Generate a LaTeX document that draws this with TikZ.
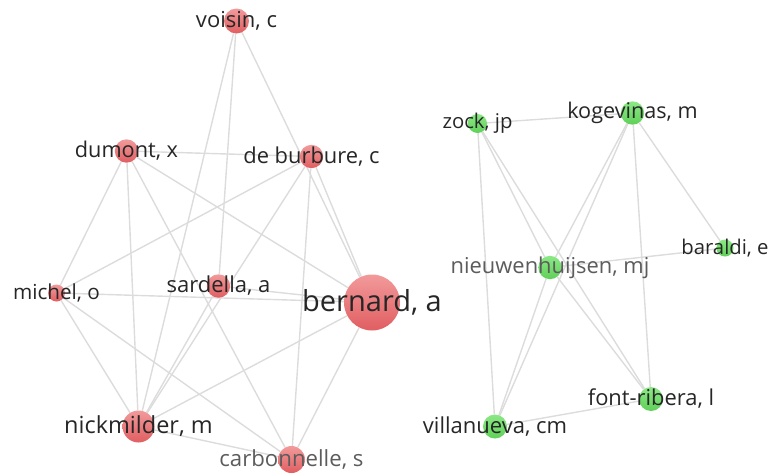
\documentclass[tikz,border=0pt]{standalone}
\usepackage{fontspec}
\setmainfont{Open Sans}
\usetikzlibrary{backgrounds}

\definecolor{redtop}{HTML}{F29A9B}
\definecolor{redbot}{HTML}{E05E61}
\definecolor{greentop}{HTML}{8CE886}
\definecolor{greenbot}{HTML}{5FD058}
\definecolor{edgegray}{HTML}{DCDCDC}
\definecolor{txtdark}{HTML}{262626}
\definecolor{txtgray}{HTML}{5C5C5C}

\begin{document}
\begin{tikzpicture}[x=1pt,y=-1pt,
	redauthor/.style={circle,inner sep=0pt,top color=redtop,bottom color=redbot},
	greenauthor/.style={circle,inner sep=0pt,top color=greentop,bottom color=greenbot},
	link/.style={edgegray,line width=1.4pt}]

\useasboundingbox (0,0) rectangle (772,474);

% \mynode{name}{x}{y}{radius}{style}{fontsize}{textcolor}{text}
\newcommand*{\mynode}[8]{
	\node [#5, minimum size={2*#4pt}] (#1) at (#2,#3) {};
	\node [inner sep=0pt, text=#7, font=\fontsize{#6}{#6}\selectfont] (#1-t) at (#1) {#8};
}

	\mynode{voisin}{236.5}{21}{12.5}{redauthor}{22}{txtdark}{voisin, c}
	\mynode{dumont}{126.5}{151}{11.7}{redauthor}{21.7}{txtdark}{dumont, x}
	\mynode{burbure}{311.5}{156.5}{11.7}{redauthor}{21.9}{txtdark}{de burbure, c}
	\mynode{michel}{56.5}{293}{8.5}{redauthor}{20.7}{txtdark}{michel, o}
	\mynode{sardella}{218.5}{286}{11.7}{redauthor}{22}{txtdark}{sardella, a}
	\mynode{bernard}{372}{302.5}{28}{redauthor}{29}{txtdark}{bernard, a}
	\mynode{nickmilder}{138.5}{426.5}{16}{redauthor}{23.5}{txtdark}{nickmilder, m}
	\mynode{carbonnelle}{291.5}{459.5}{13.5}{redauthor}{22.2}{txtgray}{carbonnelle, s}

	\mynode{zock}{477.5}{123.5}{9.5}{greenauthor}{20.3}{txtdark}{zock, jp}
	\mynode{kogevinas}{632.5}{113}{11.7}{greenauthor}{21.6}{txtdark}{kogevinas, m}
	\mynode{baraldi}{725}{248}{8.5}{greenauthor}{20.3}{txtdark}{baraldi, e}
	\mynode{nieuwenhuijsen}{550}{267.5}{11.7}{greenauthor}{21.9}{txtgray}{nieuwenhuijsen, mj}
	\mynode{fontribera}{651}{399}{12}{greenauthor}{21.9}{txtdark}{font-ribera, l}
	\mynode{villanueva}{495}{426.5}{12}{greenauthor}{22}{txtdark}{villanueva, cm}

\begin{pgfonlayer}{background}
	\foreach \a/\b in {voisin/nickmilder,voisin/sardella,voisin/bernard,
		dumont/burbure,dumont/michel,dumont/nickmilder,dumont/carbonnelle,dumont/bernard,
		burbure/michel,burbure/nickmilder,burbure/carbonnelle,burbure/bernard,
		michel/bernard,michel/nickmilder,michel/carbonnelle,
		sardella/bernard,sardella/nickmilder,
		bernard/nickmilder,bernard/carbonnelle,nickmilder/carbonnelle}
		\draw [link] (\a) -- (\b);

	\foreach \a/\b in {zock/kogevinas,zock/villanueva,zock/nieuwenhuijsen,zock/fontribera,
		kogevinas/nieuwenhuijsen,kogevinas/villanueva,kogevinas/fontribera,kogevinas/baraldi,
		nieuwenhuijsen/baraldi,nieuwenhuijsen/villanueva,nieuwenhuijsen/fontribera,
		villanueva/fontribera}
		\draw [link] (\a) -- (\b);
\end{pgfonlayer}

\end{tikzpicture}
\end{document}
